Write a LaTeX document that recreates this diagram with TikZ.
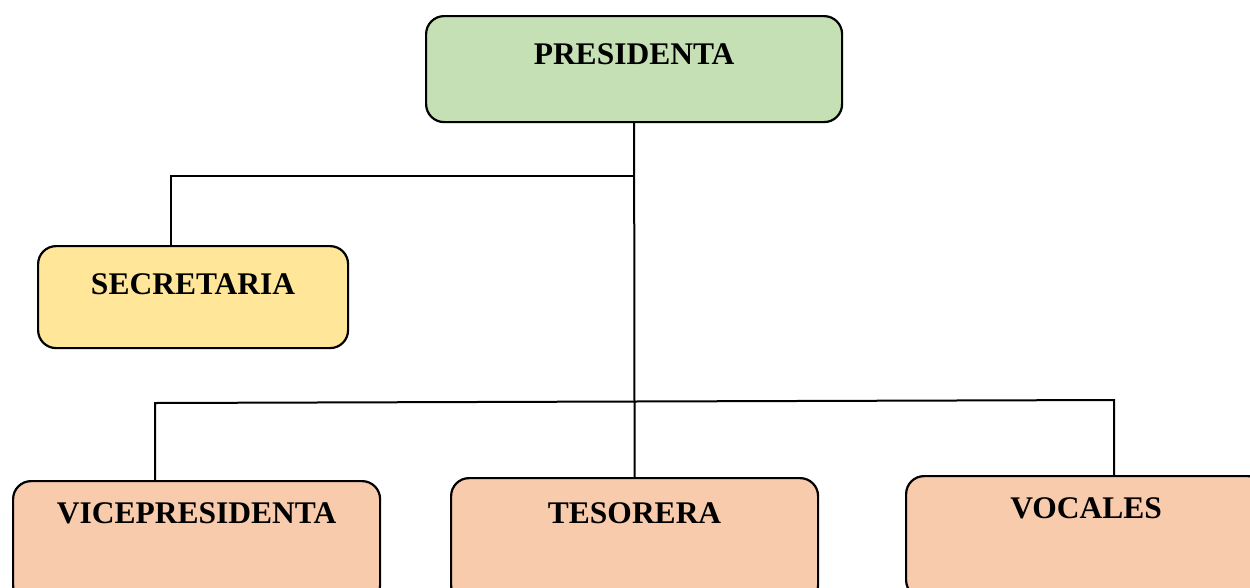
\documentclass[tikz,border=0pt]{standalone}
\usepackage{fontspec}
\setmainfont{Liberation Serif}
\definecolor{cgreen}{HTML}{C5E0B4}
\definecolor{cyellow}{HTML}{FFE699}
\definecolor{cpeach}{HTML}{F8CBAD}
\begin{document}
\begin{tikzpicture}[x=1pt,y=-1pt,
  box/.style={draw=black,line width=2.2pt,rounded corners=18pt,inner sep=0pt,
    anchor=north west,font=\bfseries\fontsize{31.5}{36}\selectfont},
  link/.style={draw=black,line width=2pt}]
\useasboundingbox (0,0) rectangle (1250,587);
\clip (0,0) rectangle (1250,587);
\fill[white] (0,0) rectangle (1250,587);
\node[box,fill=cgreen,minimum width=416pt,text height=48pt,text depth=58pt] (pres) at (425,15) {PRESIDENTA};
\node[box,fill=cyellow,minimum width=310pt,text height=48pt,text depth=54pt] (sec) at (37,245) {SECRETARIA};
\node[box,fill=cpeach,minimum width=367pt,text height=42pt,text depth=80pt] (vice) at (12,480) {VICEPRESIDENTA};
\node[box,fill=cpeach,minimum width=367pt,text height=45pt,text depth=80pt] (tes) at (450,477) {TESORERA};
\node[box,fill=cpeach,minimum width=360pt,text height=42pt,text depth=80pt] (voc) at (905,475) {VOCALES};
\coordinate (j1) at (633,176);
\coordinate (j2) at (171,176);
\coordinate (jl) at (155,403);
\coordinate (jr) at (1114,400);
\draw[link] (pres.south) -- (tes.north);
\draw[link] (j1) -- (j2) -- (j2 |- sec.north);
\draw[link] (vice.north -| jl) -- (jl) -- (jr) -- (jr |- voc.north);
\end{tikzpicture}
\end{document}
